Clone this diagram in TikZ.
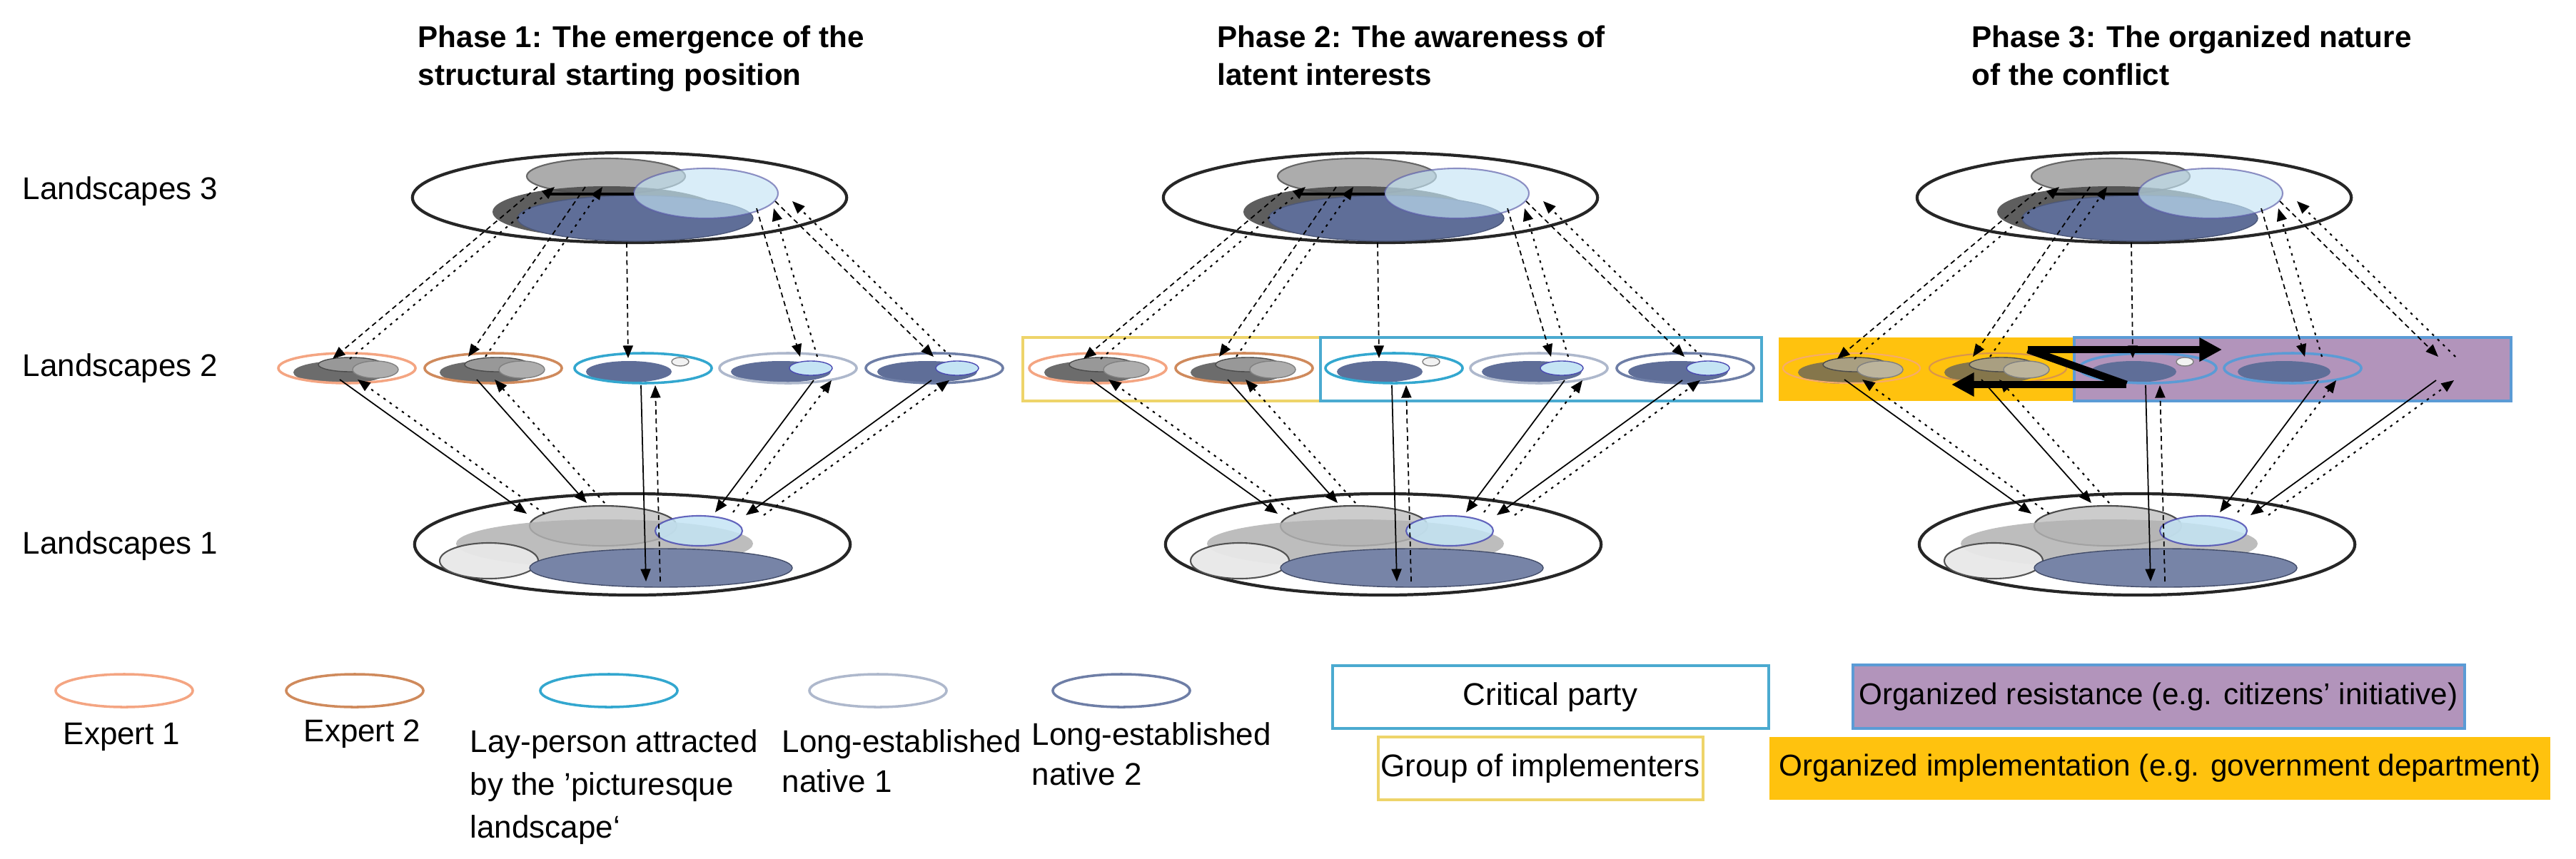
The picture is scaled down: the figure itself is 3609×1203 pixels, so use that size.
\documentclass[tikz,border=0pt]{standalone}
\usepackage{fontspec}
\setmainfont{Liberation Sans}
\usetikzlibrary{shapes.geometric,arrows.meta}
\definecolor{ex1}{HTML}{F4A582}
\definecolor{ex2}{HTML}{CF8A5C}
\definecolor{lay}{HTML}{33A7CF}
\definecolor{nat1}{HTML}{AEB8CC}
\definecolor{nat2}{HTML}{6E7EA6}
\definecolor{dblue}{HTML}{5F6E98}
\definecolor{lblue}{HTML}{C4E4F4}
\definecolor{impl}{HTML}{FFC20E}
\definecolor{resist}{HTML}{B294BB}
\definecolor{resb}{HTML}{5B9BD5}
\definecolor{grpb}{HTML}{EED46A}
\definecolor{critb}{HTML}{4BAAD0}
\tikzset{
 tip/.style={-{Triangle[length=5pt,width=4pt]}},
 lk/.style={tip,line width=0.5pt},
 lkd/.style={tip,line width=0.5pt,dash pattern=on 2pt off 1.5pt},
 lkp/.style={tip,line width=0.6pt,dash pattern=on 1pt off 2pt},
 l2/.style={ellipse,draw,line width=1pt,minimum width=1.92cm,minimum height=0.42cm,inner sep=0pt},
 big/.style={ellipse,draw=black!85,line width=1.2pt,inner sep=0pt},
 txt/.style={font=\fontsize{12.5}{15}\selectfont,inner sep=0pt},
 ttl/.style={font=\bfseries\fontsize{12}{15}\selectfont,inner sep=0pt,align=left,anchor=north west},
 thick3/.style={line width=3pt,-{Triangle[length=9pt,width=9pt]}},
}
\begin{document}
\begin{tikzpicture}[x=0.01cm,y=-0.01cm]
\useasboundingbox (0,0) rectangle (3609,1203);
% titles
\node[ttl] (t1) at (585,35) {Phase 1: The emergence of the\\structural starting position};
\node[ttl] (t2) at (1705,35) {Phase 2: The awareness of\\latent interests};
\node[ttl] (t3) at (2762,35) {Phase 3: The organized nature\\of the conflict};
\node[txt,anchor=west] (r3) at (31,268) {Landscapes 3};
\node[txt,anchor=west] (r2) at (31,516) {Landscapes 2};
\node[txt,anchor=west] (r1) at (31,765) {Landscapes 1};
% group boxes
\draw[grpb,line width=1pt] (1433,473) rectangle (1850,562);
\draw[critb,line width=1pt] (1850,473) rectangle (2468,562);
\fill[impl] (2492,473) rectangle (2906,562);
\draw[resb,line width=1pt,fill=resist] (2906,473) rectangle (3518,562);
\foreach \dx/\p in {0/a,1052/b,2108/c}{
 % top
 \node[big,minimum width=6.08cm,minimum height=1.26cm] (\p top) at ({\dx+882},277) {};
 \draw[fill=gray!65,draw=gray!80!black,line width=0.6pt] ({\dx+849},247) ellipse [x radius=111,y radius=25];
 \draw[fill=gray!60!black,draw=none,opacity=0.9] ({\dx+850},297) ellipse [x radius=160,y radius=36];
 \draw[fill=dblue,draw=dblue!80!black] ({\dx+890},306) ellipse [x radius=165,y radius=32];
 \draw[fill=lblue,draw=gray!70!blue,opacity=0.65,line width=0.6pt] ({\dx+989},271) ellipse [x radius=101,y radius=35];
 \draw[line width=1.2pt] ({\dx+765},272) -- ({\dx+888},272);
 % bottom
 \node[big,minimum width=6.1cm,minimum height=1.42cm] (\p bot) at ({\dx+886},763) {};
 \draw[fill=gray!40,draw=gray!60!black,line width=0.6pt] ({\dx+845},737) ellipse [x radius=103,y radius=28];
 \draw[fill=gray!60,draw=none,opacity=0.85] ({\dx+847},762) ellipse [x radius=208,y radius=34];
 \draw[fill=gray!18,draw=gray!60!black,line width=0.6pt,opacity=0.95] ({\dx+685},786) ellipse [x radius=69,y radius=25];
 \draw[fill=dblue!85,draw=dblue!70!black] ({\dx+926},796) ellipse [x radius=184,y radius=27];
 \draw[fill=lblue,draw=gray!60!blue,line width=0.6pt,opacity=0.85] ({\dx+979},744) ellipse [x radius=61,y radius=21];
}
% Landscapes 2 ellipses
\newcommand\expfill[2]{%
 \fill[#2] ({#1-10},522) ellipse [x radius=65,y radius=16];
 \draw[fill=#2!70!white,draw=black!70] ({#1+5},511) ellipse [x radius=45,y radius=10];
 \draw[fill=#2!55!white,draw=black!50] ({#1+40},518) ellipse [x radius=32,y radius=12];}
\newcommand\layfill[1]{%
 \fill[dblue] ({#1-20},521) ellipse [x radius=60,y radius=15];
 \draw[fill=gray!10,draw=gray] ({#1+52},507) ellipse [x radius=12,y radius=6];}
\newcommand\natfill[1]{%
 \fill[dblue] ({#1-10},521) ellipse [x radius=70,y radius=15];
 \draw[fill=lblue,draw=gray!60!blue] ({#1+32},516) ellipse [x radius=30,y radius=10];}
\foreach \dx/\p in {0/a,1052/b}{
 \expfill{\dx+486}{gray!85!black}\expfill{\dx+691}{gray!85!black}
 \layfill{\dx+901}\natfill{\dx+1104}\natfill{\dx+1309}
 \node[l2,draw=ex1] (\p1) at ({\dx+486},516) {};
 \node[l2,draw=ex2] (\p2) at ({\dx+691},516) {};
 \node[l2,draw=lay] (\p3) at ({\dx+901},516) {};
 \node[l2,draw=nat1] (\p4) at ({\dx+1104},516) {};
 \node[l2,draw=nat2] (\p5) at ({\dx+1309},516) {};
}
\expfill{2594}{gray!70!impl!80!black}\expfill{2799}{gray!70!impl!80!black}
\fill[dblue] (2989,521) ellipse [x radius=60,y radius=15];
\draw[fill=gray!10,draw=gray] (3061,507) ellipse [x radius=12,y radius=6];
\fill[dblue] (3200,521) ellipse [x radius=65,y radius=15];
\node[l2,draw=ex1!80!impl,line width=0.6pt] (c1) at (2594,516) {};
\node[l2,draw=ex2!80!impl,line width=0.6pt] (c2) at (2799,516) {};
\node[l2,draw=resb] (c3) at (3009,516) {};
\node[l2,draw=resb] (c4) at (3212,516) {};
\coordinate (c5) at (3417,516);
% connectors
\foreach \dx/\p in {0/a,1052/b,2108/c}{
 \coordinate (\p t1) at ({\dx+765},262); \coordinate (\p t2) at ({\dx+832},262);
 \coordinate (\p t3) at ({\dx+878},340); \coordinate (\p t4) at ({\dx+1072},292);
 \coordinate (\p t5) at ({\dx+1098},282);
 \coordinate (\p a1) at ({\dx+478},503); \coordinate (\p a2) at ({\dx+668},500);
 \coordinate (\p a3) at ({\dx+880},502); \coordinate (\p a4) at ({\dx+1133},500);
 \coordinate (\p a5) at ({\dx+1320},500);
 \coordinate (\p b1) at ({\dx+476},532); \coordinate (\p b2) at ({\dx+668},532);
 \coordinate (\p b3) at ({\dx+898},540); \coordinate (\p b4) at ({\dx+1140},533);
 \coordinate (\p b5) at ({\dx+1305},533);
 \coordinate (\p c1) at ({\dx+738},720); \coordinate (\p c2) at ({\dx+822},705);
 \coordinate (\p c3) at ({\dx+905},815); \coordinate (\p c4) at ({\dx+1002},718);
 \coordinate (\p c5) at ({\dx+1045},722);
 \foreach \i in {1,2,4,5}{
  \draw[lkd] ([xshift=-1.2mm]\p t\i) -- ([xshift=-1.2mm]\p a\i);
  \draw[lkp] ([xshift=1.2mm]\p a\i) -- ([xshift=1.2mm]\p t\i);
 }
 \draw[lkd] (\p t3) -- (\p a3);
 \foreach \i in {1,2,4,5}{
  \draw[lk] (\p b\i) -- (\p c\i);
  \draw[lkp] ([xshift=2.5mm]\p c\i) -- ([xshift=2.5mm]\p b\i);
 }
 \draw[lk] (\p b3) -- (\p c3);
 \draw[lkd] ([xshift=2mm]\p c3) -- ([xshift=2mm]\p b3);
}
% thick arrows phase 3
\coordinate (z1) at (2841,490); \coordinate (z2) at (3113,490);
\coordinate (z3) at (2979,539); \coordinate (z4) at (2734,539);
\draw[thick3] (z1) -- (z2);
\draw[line width=3pt] (z1) -- (z3);
\draw[thick3] (z3) -- (z4);
% legend
\node[l2,draw=ex1,minimum height=0.46cm] (le1) at (174,968) {};
\node[l2,draw=ex2,minimum height=0.46cm] (le2) at (497,968) {};
\node[l2,draw=lay,minimum height=0.46cm] (le3) at (853,968) {};
\node[l2,draw=nat1,minimum height=0.46cm] (le4) at (1230,968) {};
\node[l2,draw=nat2,minimum height=0.46cm] (le5) at (1571,968) {};
\node[txt,anchor=west] (x1) at (88,1033) {Expert 1};
\node[txt,anchor=west] (x2) at (425,1029) {Expert 2};
\node[txt,anchor=north west,align=left,font=\fontsize{12.5}{17}\selectfont] (x3) at (658,1022) {Lay-person attracted\\by the 'picturesque\\landscape`};
\node[txt,anchor=north west,align=left,font=\fontsize{12.5}{16}\selectfont] (x4) at (1095,1022) {Long-established\\native 1};
\node[txt,anchor=north west,align=left,font=\fontsize{12.5}{16}\selectfont] (x5) at (1445,1012) {Long-established\\native 2};
\draw[critb,line width=1pt] (1867,933) rectangle (2478,1021);
\node[txt] (x6) at (2172,977) {Critical party};
\draw[grpb,line width=1pt] (1931,1033) rectangle (2386,1121);
\node[txt] (x7) at (2158,1077) {Group of implementers};
\draw[resb,line width=1pt,fill=resist] (2596,932) rectangle (3453,1021);
\node[txt,font=\fontsize{12}{14}\selectfont] (x8) at (3024,977) {Organized resistance (e.g. citizens' initiative)};
\fill[impl] (2479,1033) rectangle (3573,1121);
\node[txt,font=\fontsize{12}{14}\selectfont] (x9) at (3026,1077) {Organized implementation (e.g. government department)};
\end{tikzpicture}
\end{document}
